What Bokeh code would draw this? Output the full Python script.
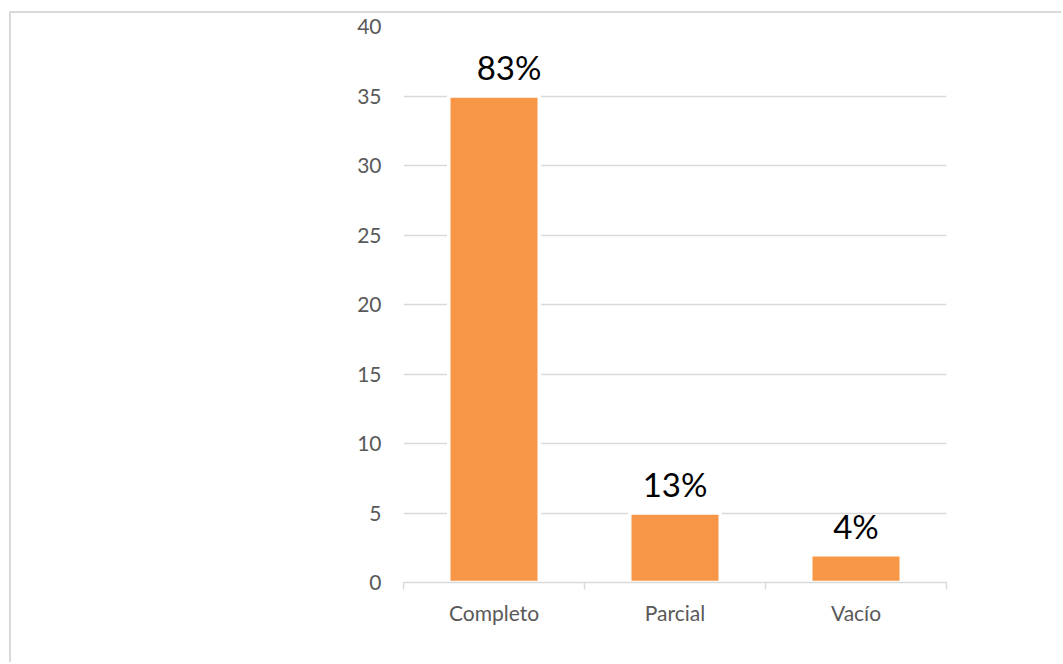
from bokeh.plotting import figure
from bokeh.models import ColumnDataSource, FixedTicker, LabelSet
from bokeh.embed import file_html
from bokeh.resources import INLINE
from bokeh.core.properties import value

categories = ["Completo", "Parcial", "Vacío"]
counts = [35, 5, 2]
pct_labels = ["83%", "13%", "4%"]
label_shift = [15, 0, 0]
y_ticks = [0, 5, 10, 15, 20, 25, 30, 35, 40]

xs = [i + 0.5 for i in range(len(categories))]
src = ColumnDataSource(dict(x=xs, top=counts, lab=pct_labels, dx=label_shift))

p = figure(width=1052, height=651, output_backend="svg", toolbar_location=None,
           x_range=(0, len(categories)), y_range=(0, 40),
           min_border_left=392, min_border_right=117, min_border_top=13, min_border_bottom=82)
p.styles = {"margin-left": "9px", "margin-top": "11px",
            "border-left": "2px solid #d9d9d9", "border-top": "2px solid #d9d9d9"}
p.outline_line_color = None
p.background_fill_color = "white"
p.border_fill_color = "white"

p.vbar(x="x", top="top", bottom=0, width=0.5, source=src, fill_color="#F79646",
       line_color="white", line_width=3.5)

labels = LabelSet(x="x", y="top", text="lab", source=src, text_align="center", text_baseline="bottom",
                  x_offset="dx", y_offset=9, text_font=value("Lato"), text_font_size="33px",
                  text_color="black")
p.add_layout(labels)

p.xaxis.ticker = FixedTicker(ticks=xs, minor_ticks=list(range(len(categories) + 1)))
p.xaxis.major_label_overrides = {x: c for x, c in zip(xs, categories)}
p.xaxis.major_tick_line_color = None
p.xaxis.minor_tick_in = 0
p.xaxis.minor_tick_out = 7
p.xaxis.minor_tick_line_color = "#d9d9d9"
p.xaxis.minor_tick_line_width = 1.5
p.xaxis.axis_line_color = "#d9d9d9"
p.xaxis.axis_line_width = 1.5
p.xaxis.major_label_text_font = "Lato"
p.xaxis.major_label_text_font_size = "21px"
p.xaxis.major_label_text_color = "#595959"
p.xaxis.major_label_standoff = 10
p.xgrid.grid_line_color = None

p.yaxis.ticker = FixedTicker(ticks=y_ticks)
p.yaxis.axis_line_color = None
p.yaxis.major_tick_line_color = None
p.yaxis.minor_tick_line_color = None
p.yaxis.major_tick_out = 0
p.yaxis.major_label_standoff = 22
p.yaxis.major_label_text_font = "Lato"
p.yaxis.major_label_text_font_size = "21px"
p.yaxis.major_label_text_color = "#595959"
p.ygrid.grid_line_color = "#d9d9d9"
p.ygrid.grid_line_width = 1.5

open("out.html", "w").write(file_html(p, INLINE))
